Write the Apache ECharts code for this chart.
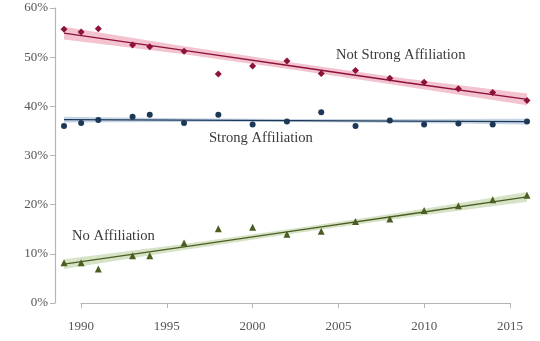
<!DOCTYPE html>
<html><head><meta charset="utf-8">
<script src="https://cdn.jsdelivr.net/npm/echarts@6/dist/echarts.min.js"></script>
<style>html,body{margin:0;padding:0;background:#fff}#c{width:540px;height:341px}</style>
</head><body><div id="c"></div>
<script>
const years = [1989,1990,1991,1993,1994,1996,1998,2000,2002,2004,2006,2008,2010,2012,2014,2016];
const notStrong = [55.7,55.1,55.8,52.5,52.1,51.2,46.6,48.2,49.2,46.7,47.3,45.7,44.9,43.6,42.8,41.2];
const strong = [36.0,36.6,37.2,37.9,38.3,36.6,38.3,36.3,36.9,38.8,36.0,37.1,36.3,36.5,36.3,36.9];
const noAff = [8.2,8.2,6.9,9.6,9.6,12.2,15.1,15.4,14.0,14.6,16.6,17.1,18.8,19.8,21.0,21.9];

const fitYears = [1989,1996,2002.5,2009,2016];
const notStrongFit = [54.9,51.4,48.1,44.8,41.4];
const notStrongUpper = [56.2,52.2,48.8,45.6,42.6];
const notStrongLower = [53.6,50.6,47.4,44.0,40.2];
const strongFit = [37.3,37.2,37.1,37.0,36.9];
const strongUpper = [37.9,37.6,37.4,37.4,37.5];
const strongLower = [36.7,36.8,36.8,36.6,36.3];
const noAffFit = [7.9,11.4,14.7,18.0,21.6];
const noAffUpper = [8.9,12.0,15.2,18.6,22.6];
const noAffLower = [6.9,10.8,14.2,17.4,20.6];

const yTicks = [0,10,20,30,40,50,60];
const xTicks = [1990,1995,2000,2005,2010,2015];

const groups = [
  {name:'notStrong', pts:notStrong, fit:notStrongFit, up:notStrongUpper, lo:notStrongLower, color:'#8c1239', band:'#f3c3cf', symbol:'diamond', size:7},
  {name:'strong', pts:strong, fit:strongFit, up:strongUpper, lo:strongLower, color:'#1d3857', band:'#c6d5e5', symbol:'circle', size:6},
  {name:'noAff', pts:noAff, fit:noAffFit, up:noAffUpper, lo:noAffLower, color:'#4a5e22', band:'#d7e3c6', symbol:'triangle', size:7}
];

const series = [];
groups.forEach(g => {
  const bandData = fitYears.map((y,i)=>[y, g.lo[i], g.up[i]]);
  series.push({
    type:'custom', data:bandData, encode:{x:0, y:[1,2]}, silent:true, z:1,
    renderItem:(params, api) => {
      if (params.dataIndex !== 0) return null;
      const top = bandData.map(d => api.coord([d[0], d[2]]));
      const bot = bandData.slice().reverse().map(d => api.coord([d[0], d[1]]));
      return {type:'polygon', shape:{points: top.concat(bot)}, style:{fill:g.band}};
    }
  });
});
groups.forEach(g => {
  series.push({type:'line', data:fitYears.map((y,i)=>[y,g.fit[i]]), symbol:'none', lineStyle:{color:g.color, width:1.3}, z:3, silent:true});
});
groups.forEach(g => {
  series.push({type:'scatter', data:years.map((y,i)=>[y,g.pts[i]]), symbol:g.symbol, symbolSize:g.size, itemStyle:{color:g.color, opacity:1}, z:5});
});

const font = '"Liberation Serif", "DejaVu Serif", serif';
const chart = echarts.init(document.getElementById('c'), null, {renderer:'canvas'});
chart.setOption({
  animation:false,
  grid:[{left:64, right:13, top:8, bottom:38}, {left:81, right:30, top:8, bottom:38}],
  xAxis:[
    {type:'value', gridIndex:0, min:1989, max:2016, show:false},
    {type:'value', gridIndex:1, min:1990, max:2015, interval:5, offset:9,
     axisLine:{show:true, lineStyle:{color:'#b5b5b5', width:1.2}},
     axisTick:{show:true, length:5, lineStyle:{color:'#b5b5b5'}},
     splitLine:{show:false},
     axisLabel:{color:'#555', fontFamily:font, fontSize:13, margin:8, formatter:v=>String(v)}}
  ],
  yAxis:[
    {type:'value', gridIndex:0, min:0, max:60, interval:10, offset:9,
     axisLine:{show:true, lineStyle:{color:'#b5b5b5', width:1.2}},
     axisTick:{show:true, length:5, lineStyle:{color:'#b5b5b5'}},
     splitLine:{show:false},
     axisLabel:{color:'#555', fontFamily:font, fontSize:13, margin:7, formatter:v=>v+'%'}},
    {type:'value', gridIndex:1, min:0, max:60, show:false}
  ],
  series: series,
  graphic:[
    {type:'text', left:336, top:48, style:{text:'Not Strong Affiliation', font:'14.6px '+font, fill:'#3a3a3a'}},
    {type:'text', left:209, top:131, style:{text:'Strong Affiliation', font:'14.6px '+font, fill:'#3a3a3a'}},
    {type:'text', left:72, top:229, style:{text:'No Affiliation', font:'14.6px '+font, fill:'#3a3a3a'}}
  ]
});
</script></body></html>
